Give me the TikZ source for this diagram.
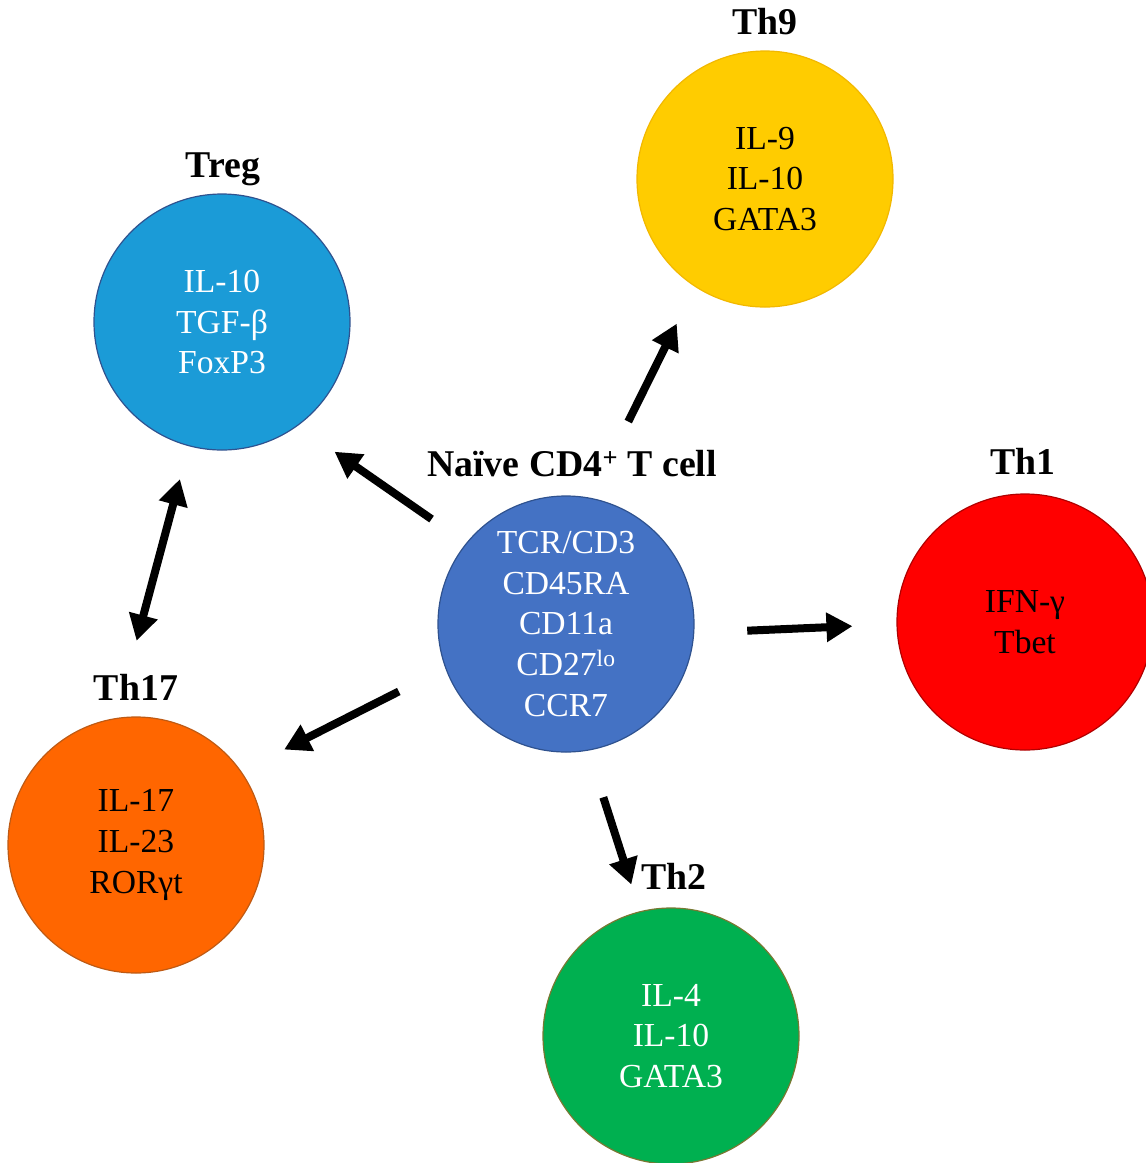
\documentclass[tikz,border=0pt]{standalone}
\usepackage{fontspec}
\setmainfont{Liberation Serif}
\usetikzlibrary{arrows.meta}

\definecolor{naivefill}{RGB}{68,114,196}
\definecolor{naiveline}{RGB}{47,82,143}
\definecolor{tregfill}{RGB}{27,155,215}
\definecolor{tregline}{RGB}{47,82,143}
\definecolor{thninefill}{RGB}{255,204,0}
\definecolor{thnineline}{RGB}{242,184,0}
\definecolor{thonefill}{RGB}{255,0,0}
\definecolor{thoneline}{RGB}{176,0,0}
\definecolor{thseventeenfill}{RGB}{255,102,0}
\definecolor{thseventeenline}{RGB}{190,90,20}
\definecolor{thtwofill}{RGB}{0,176,80}
\definecolor{thtwoline}{RGB}{120,120,50}

\tikzset{
  cell/.style={circle, minimum size=256pt, inner sep=0pt, line width=1.2pt,
    align=center, font=\fontsize{33.6}{40.7}\selectfont},
  celllabel/.style={anchor=base, inner sep=0pt, font=\fontsize{37.8}{40}\selectfont\bfseries},
  arr/.style={line width=8pt, -{Triangle[width=28pt,length=26pt]}},
  dblarr/.style={line width=8pt, {Triangle[width=28pt,length=26pt]}-{Triangle[width=28pt,length=26pt]}}
}

\begin{document}
\begin{tikzpicture}[x=1pt,y=-1pt]
\useasboundingbox (0,0) rectangle (1146,1163);

\node[cell, fill=naivefill, draw=naiveline, text=white] (naive) at (566,624)
  {TCR/CD3\\CD45RA\\CD11a\\CD27\textsuperscript{lo}\\CCR7};
\node[cell, fill=tregfill, draw=tregline, text=white] (treg) at (222,322)
  {IL-10\\TGF-β\\FoxP3};
\node[cell, fill=thninefill, draw=thnineline] (th9) at (765,179)
  {IL-9\\IL-10\\GATA3};
\node[cell, fill=thonefill, draw=thoneline] (th1) at (1025,622)
  {IFN-γ\\Tbet};
\node[cell, fill=thseventeenfill, draw=thseventeenline] (th17) at (136,845)
  {IL-17\\IL-23\\RORγt};
\node[cell, fill=thtwofill, draw=thtwoline, text=white] (th2) at (671,1036)
  {IL-4\\IL-10\\GATA3};

\node[celllabel] (naivelabel) at (572,476) {Naïve CD4\textsuperscript{+} T cell};
\node[celllabel] (treglabel) at (223,177) {Treg};
\node[celllabel] (th9label) at (765,34) {Th9};
\node[celllabel] (th1label) at (1023,474) {Th1};
\node[celllabel] (th17label) at (136,700) {Th17};
\node[celllabel] (th2label) at (674,889) {Th2};

\draw[arr, shorten <=42pt, shorten >=45pt] (naive.141) -- (treg.306);
\draw[arr, shorten <=85pt, shorten >=41pt] (naive.79) -- (th9.237);
\draw[arr, shorten <=53pt, shorten >=44pt] (naive.356) -- (th1.181);
\draw[arr, shorten <=52pt, shorten >=48pt] (naive.200) -- (th17.35);
\draw[arr, shorten <=49pt, shorten >=28pt] (naive.280) -- (th2.104);
\draw[dblarr, shorten <=34pt, shorten >=80pt] (treg.255) -- (th17.99);
\end{tikzpicture}
\end{document}
